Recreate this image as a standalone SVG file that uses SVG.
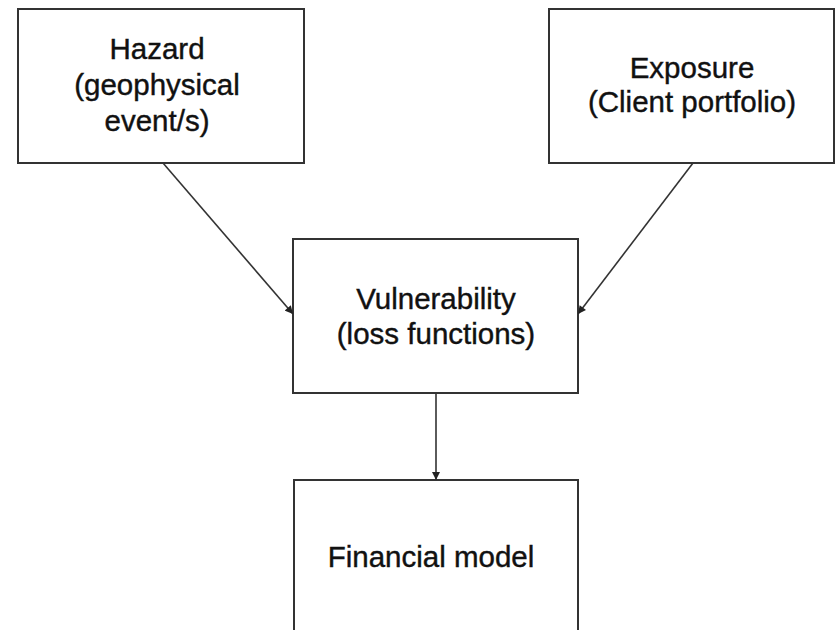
<svg xmlns="http://www.w3.org/2000/svg" width="836" height="630" viewBox="0 0 836 630">
<style>
.box{fill:#fff;stroke:#333;stroke-width:2}
.lbl{font-family:"Liberation Sans",Arial,sans-serif;font-size:29.5px;fill:#111;stroke:#111;stroke-width:0.4;text-anchor:middle}
.con{stroke:#333;stroke-width:1.6;fill:none;marker-end:url(#ah)}
</style>
<defs>
<marker id="ah" viewBox="0 0 10 10" refX="10" refY="5" markerWidth="9" markerHeight="8" orient="auto" markerUnits="userSpaceOnUse">
<path d="M0,0 L10,5 L0,10 z" fill="#222"/>
</marker>
</defs>
<rect width="836" height="630" fill="#fff"/>
<g id="hazard">
<rect class="box" x="18" y="9" width="286" height="154"/>
<text class="lbl" x="157" y="59">Hazard</text>
<text class="lbl" x="157" y="95">(geophysical</text>
<text class="lbl" x="157" y="131">event/s)</text>
</g>
<g id="exposure">
<rect class="box" x="549" y="9" width="285" height="154"/>
<text class="lbl" x="692" y="78">Exposure</text>
<text class="lbl" x="692" y="112">(Client portfolio)</text>
</g>
<g id="vulnerability">
<rect class="box" x="293" y="239" width="285" height="154"/>
<text class="lbl" x="436" y="309">Vulnerability</text>
<text class="lbl" x="436" y="344">(loss functions)</text>
</g>
<g id="financial">
<rect class="box" x="294" y="480" width="284" height="170"/>
<text class="lbl" x="431" y="567">Financial model</text>
</g>
<g id="connectors">
<line class="con" x1="163" y1="163" x2="293" y2="314"/>
<line class="con" x1="693" y1="163" x2="578" y2="314"/>
<line class="con" x1="436" y1="393" x2="436" y2="480"/>
</g>
</svg>
